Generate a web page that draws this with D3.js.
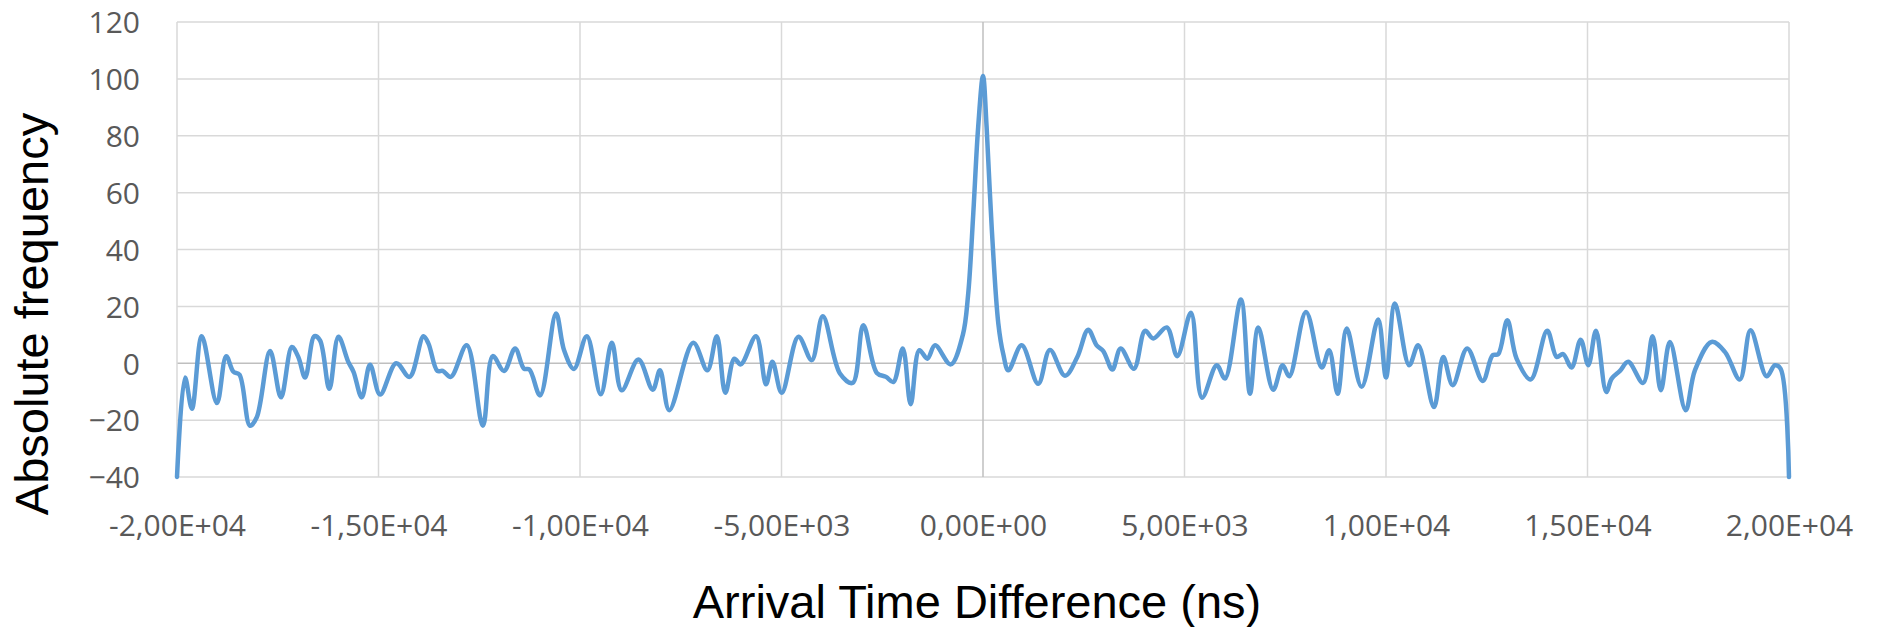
<!DOCTYPE html>
<html>
<head>
<meta charset="utf-8">
<script src="https://cdn.jsdelivr.net/npm/d3@7"></script>
<style>
  body { margin:0; background:#fff; }
  .tickLabel { font-family:"Open Sans", sans-serif; font-size:30px; fill:#595959; }
  .axisTitle { font-family:"Liberation Sans", Arial, sans-serif; font-size:47px; fill:#000; }
</style>
</head>
<body>
<svg id="chart" width="1881" height="627"></svg>
<script>
// arrival time difference (ns)
const timeDiff = [
  -20000,-19800,-19630,-19385,-19010,-18780,-18600,-18450,-18190,-18020,
  -17690,-17420,-17150,-16990,-16820,-16590,-16450,-16220,-15995,-15750,
  -15620,-15415,-15210,-14960,-14560,-14230,-13885,-13760,-13540,-13405,
  -13205,-12810,-12410,-12165,-11885,-11610,-11390,-11255,-10990,-10595,
  -10395,-10150,-9830,-9485,-9210,-8965,-8550,-8195,-8015,-7785,
  -7190,-6840,-6605,-6395,-6170,-6010,-5630,-5385,-5225,-4995,
  -4580,-4250,-3975,-3550,-3235,-2970,-2635,-2405,-2225,-1990,
  -1795,-1580,-1380,-1190,-800,-500,-370,-240,-120,0,
  90,215,380,500,630,960,1370,1660,2035,2340,
  2610,2820,2985,3210,3415,3745,4020,4225,4560,4820,
  5160,5435,5800,6005,6400,6625,6830,7200,7435,7600,
  8015,8405,8590,8800,9025,9395,9805,10000,10220,10575,
  10800,11190,11420,11655,12015,12400,12645,12785,13010,13240,
  13590,14000,14235,14395,14605,14830,15020,15210,15465,15600,
  15805,16010,16380,16615,16820,17045,17435,17665,18080,18410,
  18780,19045,19445,19650,19790,20000
]
// absolute frequency at each point
const absFreq = [
  -40,-5,-16,9.5,-14,2.5,-3,-4,-22,-19,
  4.3,-12,5.7,2.2,-5,9.5,8,-9,9.3,0.5,
  -3,-12,-0.5,-11,0,-4.8,9.5,6.9,-2.7,-2.7,
  -4.8,6.3,-22,2.5,-2.7,5.2,-1.9,-2.2,-11.3,17.5,
  4.6,-2,9.5,-10.9,7.2,-9.5,1.3,-9.3,-2.5,-16.5,
  7.2,-2.5,9.5,-10.4,1.6,-0.4,9.5,-7.4,0.5,-10.4,
  9.3,1.1,16.5,-3.6,-6.9,13.4,-3.4,-4.8,-6.6,5.2,
  -14.4,4.6,1.6,6.3,-0.4,10,24,53,83,101,
  83,48,14,3.4,-2.5,6.3,-7.2,4.7,-4.4,2.2,
  11.8,6.3,4.3,-2.2,5.2,-1.9,11.4,8.7,12.6,2.5,
  17.8,-12.1,-0.7,-5.4,22.4,-10.7,12.6,-9.3,-0.7,-4.6,
  18,-1.5,4.6,-10.7,12.2,-8.3,15.4,-5,21,-0.7,
  6.3,-15.4,2.2,-7.7,5.2,-6.2,2.8,3.2,15.1,1.6,
  -5.7,11.4,2.2,3.2,-1.5,8.3,-0.7,11.4,-10.1,-5.4,
  -2.7,0.5,-6.9,9.5,-9.5,7.5,-16.5,-2.5,7.5,4,
  -5.7,11.6,-4.6,-0.7,-1.9,-40
]
const xTicks = [-20000,-15000,-10000,-5000,0,5000,10000,15000,20000]
const yTicks = [-40,-20,0,20,40,60,80,100,120]
const xTickLabels = ["-2,00E+04","-1,50E+04","-1,00E+04","-5,00E+03","0,00E+00","5,00E+03","1,00E+04","1,50E+04","2,00E+04"]

const plot = {left:177, right:1789, top:22, bottom:477}

const svg = d3.select("#chart")

let xScale = d3.scaleLinear().domain([-20000,20000]).range([plot.left,plot.right])
let yScale = d3.scaleLinear().domain([-40,120]).range([plot.bottom,plot.top])

// gridlines
const grid = svg.append("g")
grid.selectAll(".hgrid")
    .data(yTicks)
    .join("line")
    .attr("x1",plot.left).attr("x2",plot.right)
    .attr("y1",d=>yScale(d)).attr("y2",d=>yScale(d))
    .attr("stroke",d=> d==0 ? "#bfbfbf" : "#d9d9d9")
    .attr("stroke-width",1.5)
grid.selectAll(".vgrid")
    .data(xTicks)
    .join("line")
    .attr("x1",d=>xScale(d)).attr("x2",d=>xScale(d))
    .attr("y1",plot.top).attr("y2",plot.bottom)
    .attr("stroke",d=> d==0 ? "#bfbfbf" : "#d9d9d9")
    .attr("stroke-width",1.5)

// tick labels
const yAxis = d3.axisLeft(yScale).tickValues(yTicks).tickSize(0).tickPadding(0)
const yLabel = svg.append("g")
    .attr("transform","translate(140,0)")
    .call(yAxis)
yLabel.select(".domain").remove()
yLabel.selectAll("text").attr("class","tickLabel").attr("dy","0.36em")

const xAxis = d3.axisBottom(xScale).tickValues(xTicks).tickSize(0).tickPadding(0)
    .tickFormat((d,i)=>xTickLabels[i])
const xLabel = svg.append("g")
    .attr("transform","translate(0,"+(plot.bottom+38)+")")
    .call(xAxis)
xLabel.select(".domain").remove()
xLabel.selectAll("text").attr("class","tickLabel").attr("dy","0.71em")

// the curve
const line = d3.line()
    .x((d,i)=>xScale(timeDiff[i]))
    .y(d=>yScale(d))
    .curve(d3.curveCatmullRom.alpha(0.5))

svg.append("path")
    .datum(absFreq)
    .attr("d",line)
    .attr("fill","none")
    .attr("stroke","#5b9bd5")
    .attr("stroke-width",4.5)
    .attr("stroke-linejoin","round")
    .attr("stroke-linecap","round")

// axis titles
svg.append("text")
    .attr("class","axisTitle")
    .attr("text-anchor","middle")
    .attr("transform","translate(48,314) rotate(-90)")
    .text("Absolute frequency")

svg.append("text")
    .attr("class","axisTitle")
    .attr("text-anchor","middle")
    .attr("x",977).attr("y",618)
    .text("Arrival Time Difference (ns)")
</script>
</body>
</html>
